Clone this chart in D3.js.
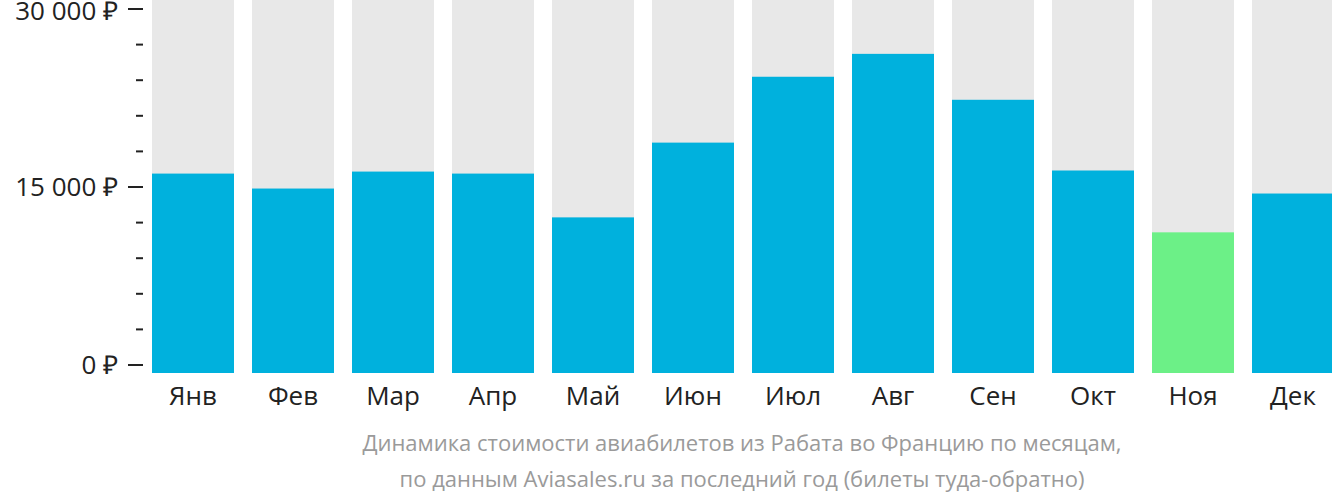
<!DOCTYPE html>
<html lang="ru">
<head>
  <meta charset="UTF-8" />
  <title>Динамика стоимости авиабилетов</title>
  <style>
    body { margin: 0; background: #fff; }
    svg { display: block; }
    text { font-family: 'Open Sans', sans-serif; }
    .tick-label { font-size: 26px; fill: #222; }
    .month { font-size: 26px; fill: #222; }
    .caption { font-size: 22px; fill: #9a9a9a; }
  </style>
  <script src="https://d3js.org/d3.v7.min.js"></script>
</head>
<body>
  <svg width="1332" height="502"></svg>

  <script>
    const months = ['Янв', 'Фев', 'Мар', 'Апр', 'Май', 'Июн', 'Июл', 'Авг', 'Сен', 'Окт', 'Ноя', 'Дек'];
    const prices = [16130, 14870, 16300, 16130, 12440, 18740, 24290, 26220, 22350, 16390, 11180, 14450];
    const cheapest = 'Ноя';
    const majorTicks = [0, 15000, 30000];
    const minorTicks = [3000, 6000, 9000, 12000, 18000, 21000, 24000, 27000];
    const captionLines = [
      'Динамика стоимости авиабилетов из Рабата во Францию по месяцам,',
      'по данным Aviasales.ru за последний год (билеты туда-обратно)'
    ];

    const svg = d3.select('svg');
    const barBottom = 373;

    const x = d3.scaleBand()
      .domain(months)
      .range([152, 1334])
      .paddingInner(0.18)
      .paddingOuter(0);

    const y = d3.scaleLinear()
      .domain([0, 30000])
      .range([365, 9]);

    // gray background columns
    svg.append('g')
      .selectAll('rect')
      .data(months)
      .enter()
      .append('rect')
      .attr('x', (d) => x(d))
      .attr('y', 0)
      .attr('width', x.bandwidth())
      .attr('height', barBottom)
      .attr('fill', '#e8e8e8');

    // price bars
    svg.append('g')
      .selectAll('rect')
      .data(months)
      .enter()
      .append('rect')
      .attr('x', (d) => x(d))
      .attr('y', (d, i) => y(prices[i]))
      .attr('width', x.bandwidth())
      .attr('height', (d, i) => barBottom - y(prices[i]))
      .attr('fill', (d) => (d === cheapest ? '#6cf087' : '#00b1dd'));

    // y axis ticks
    const axis = svg.append('g');
    axis.selectAll('line.major')
      .data(majorTicks)
      .enter()
      .append('line')
      .attr('x1', 128)
      .attr('x2', 143)
      .attr('y1', (d) => y(d))
      .attr('y2', (d) => y(d))
      .attr('stroke', '#222')
      .attr('stroke-width', 2);

    axis.selectAll('line.minor')
      .data(minorTicks)
      .enter()
      .append('line')
      .attr('x1', 136)
      .attr('x2', 143)
      .attr('y1', (d) => y(d))
      .attr('y2', (d) => y(d))
      .attr('stroke', '#222')
      .attr('stroke-width', 2);

    const fmt = (v) => d3.format(',')(v).replace(/,/g, '\u00a0') + '\u00a0₽';
    axis.selectAll('text')
      .data(majorTicks)
      .enter()
      .append('text')
      .attr('class', 'tick-label')
      .attr('x', 118)
      .attr('y', (d) => Math.max(y(d), 11))
      .attr('dy', '0.35em')
      .attr('text-anchor', 'end')
      .text(fmt);

    // month labels
    svg.append('g')
      .selectAll('text')
      .data(months)
      .enter()
      .append('text')
      .attr('class', 'month')
      .attr('x', (d) => x(d) + x.bandwidth() / 2)
      .attr('y', 405)
      .attr('text-anchor', 'middle')
      .text((d) => d);

    // caption
    svg.append('g')
      .selectAll('text')
      .data(captionLines)
      .enter()
      .append('text')
      .attr('class', 'caption')
      .attr('x', 742)
      .attr('y', (d, i) => 451 + i * 36)
      .attr('text-anchor', 'middle')
      .text((d) => d);
  </script>
</body>
</html>
